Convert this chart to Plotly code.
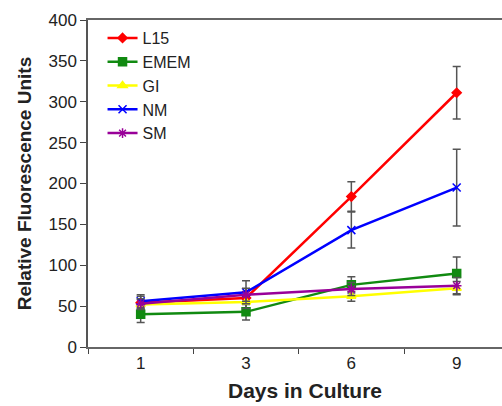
import plotly.graph_objects as go

days = ["1", "3", "6", "9"]
l15 = [54, 60, 184, 311]
l15_err = [8, 8, 18, 32]
emem = [40, 43, 76, 90]
emem_err = [10, 10, 10, 20]
gi = [52, 55, 62, 72]
gi_err = [6, 8, 6, 8]
nm = [56, 67, 143, 195]
nm_err = [8, 14, 22, 47]
sm = [53, 64, 71, 75]
sm_err = [6, 8, 8, 10]

series = [
    ("L15", l15, l15_err, "#ff0000", "diamond", 7),
    ("EMEM", emem, emem_err, "#118a11", "square", 8),
    ("GI", gi, gi_err, "#ffff00", "triangle-up", 8),
    ("NM", nm, nm_err, "#0000ff", "x-thin", 8),
    ("SM", sm, sm_err, "#990099", "asterisk", 8),
]

fig = go.Figure()
for name, vals, err, col, sym, size in series:
    fig.add_trace(go.Scatter(
        x=days, y=vals, name=name, mode="lines+markers",
        line=dict(color=col, width=2.5),
        marker=dict(color=col, symbol=sym, size=size,
                    line=dict(color=col, width=1.5)),
        error_y=dict(type="data", array=err, visible=True,
                     color="#555555", thickness=1.5, width=4),
    ))

# plot area extends past the visible window (reference is cropped on the right)
fig.update_layout(
    width=522, height=406,
    margin=dict(l=88, r=0, t=20, b=59, pad=0),
    paper_bgcolor="white", plot_bgcolor="white",
    font=dict(family="Arial, Liberation Sans, sans-serif", color="#222222", size=16),
    showlegend=True,
    legend=dict(x=0.0335, y=0.997, xanchor="left", yanchor="top",
                bgcolor="rgba(0,0,0,0)", font=dict(size=16),
                tracegroupgap=0, itemwidth=30),
    xaxis=dict(
        type="category", range=[-0.5, 3.62], automargin=False,
        tickson="boundaries", ticks="outside", ticklen=5,
        tickcolor="#444444", showline=True, linecolor="#666666",
        linewidth=1.5, mirror=True, showgrid=False, zeroline=False,
        title=dict(text="<b>Days in Culture</b>", font=dict(size=21), standoff=11),
        tickfont=dict(size=17),
    ),
    yaxis=dict(
        range=[0, 400], dtick=50, ticks="outside", ticklen=6,
        automargin=False,
        tickcolor="#444444", showline=True, linecolor="#555555",
        linewidth=1.5, showgrid=False, zeroline=False,
        title=dict(text="<b>Relative Fluorescence Units</b>", font=dict(size=19), standoff=12),
        tickfont=dict(size=17),
    ),
)

fig.write_html(
    "out.html",
    config={"displayModeBar": False},
    post_script="document.body.style.margin='0';document.body.style.overflow='hidden';",
)
